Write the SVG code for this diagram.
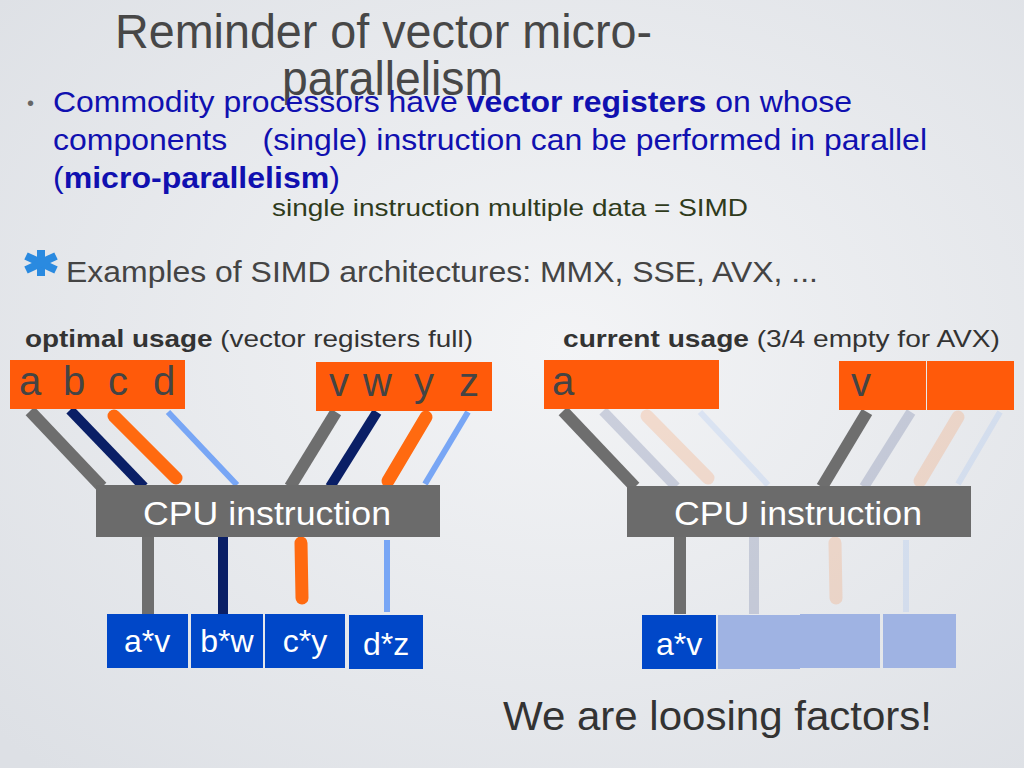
<svg xmlns="http://www.w3.org/2000/svg" width="1024" height="768" viewBox="0 0 1024 768">
<defs>
<radialGradient id="bg" cx="0.55" cy="0.45" r="0.75">
<stop offset="0" stop-color="#f3f4f6"/>
<stop offset="1" stop-color="#dde0e5"/>
</radialGradient>
<style>
text{font-family:"Liberation Sans",Arial,sans-serif}
.title{font-size:48px;fill:#474747}
.body{font-size:29px;fill:#1010b0}
.b{font-weight:bold}
.lab{font-size:24px;fill:#333}
.reg{fill:#ff5a0a}
.letter{font-size:40px;fill:#444}
.cpu{fill:#6b6b6b}
.cput{font-size:33px;fill:#fff;text-anchor:middle}
.res{fill:#0047c8}
.rest{font-size:32px;fill:#fff;text-anchor:middle}
.ghostbox{fill:#9fb3e3}
.gray{stroke:#6e6e6e;stroke-width:12;fill:none}
.navy{stroke:#0a1f66;stroke-width:10;fill:none}
.orange{stroke:#ff6a10;stroke-width:13;stroke-linecap:round;fill:none}
.lblue{stroke:#78a6f5;stroke-width:6;fill:none}
.ghost{opacity:0.16}
</style>
</defs>
<rect width="1024" height="768" fill="url(#bg)"/>

<g id="title">
<text class="title" x="115" y="48" textLength="537" lengthAdjust="spacingAndGlyphs">Reminder of vector micro-</text>
<text class="title" x="282" y="95" textLength="221" lengthAdjust="spacingAndGlyphs">parallelism</text>
</g>

<g id="bullet">
<text x="27" y="110" style="font-size:20px;fill:#666">•</text>
<text class="body" x="53" y="112" textLength="799" lengthAdjust="spacingAndGlyphs">Commodity processors have <tspan class="b">vector registers</tspan> on whose</text>
<text class="body" x="53" y="150" textLength="874" lengthAdjust="spacingAndGlyphs" xml:space="preserve">components    (single) instruction can be performed in parallel</text>
<text class="body" x="53" y="188" textLength="287" lengthAdjust="spacingAndGlyphs">(<tspan class="b">micro-parallelism</tspan>)</text>
<text x="272" y="216" textLength="476" lengthAdjust="spacingAndGlyphs" style="font-size:24px;fill:#2f3b1c">single instruction multiple data = SIMD</text>
</g>

<g id="examples">
<g stroke="#2a8ae0" stroke-width="8" stroke-linecap="butt">
<line x1="41" y1="250" x2="41" y2="276"/>
<line x1="26" y1="256" x2="56" y2="270"/>
<line x1="26" y1="270" x2="56" y2="256"/>
</g>
<text x="66" y="282" textLength="752" lengthAdjust="spacingAndGlyphs" style="font-size:29px;fill:#444">Examples of SIMD architectures: MMX, SSE, AVX, ...</text>
</g>

<g id="labels">
<text class="lab" x="25" y="347" textLength="448" lengthAdjust="spacingAndGlyphs"><tspan class="b">optimal usage</tspan> (vector registers full)</text>
<text class="lab" x="563" y="347" textLength="437" lengthAdjust="spacingAndGlyphs"><tspan class="b">current usage</tspan> (3/4 empty for AVX)</text>
</g>

<g id="connectors">
<line class="gray" x1="30" y1="411" x2="102" y2="487"/>
<line class="navy" x1="70" y1="410" x2="144" y2="487"/>
<line class="orange" x1="114" y1="416" x2="176" y2="478"/>
<line class="lblue" x1="168" y1="412" x2="237" y2="485"/>
<line class="gray" x1="336" y1="412" x2="290" y2="487"/>
<line class="navy" x1="377" y1="412" x2="330" y2="487"/>
<line class="orange" x1="426" y1="417" x2="388" y2="481"/>
<line class="lblue" x1="468" y1="412" x2="425" y2="484"/>
<line class="gray" x1="148" y1="537" x2="148" y2="614"/>
<line class="navy" x1="223" y1="537" x2="223" y2="614"/>
<line class="orange" x1="301" y1="543" x2="302" y2="598"/>
<line class="lblue" x1="387" y1="540" x2="387" y2="612"/>
<line class="gray" x1="563" y1="411" x2="635" y2="487"/>
<line class="gray" x1="867" y1="412" x2="822" y2="487"/>
<line class="gray" x1="680" y1="537" x2="680" y2="614"/>
<g class="ghost">
<line class="navy" x1="603" y1="411" x2="676" y2="487"/>
<line class="orange" x1="647" y1="416" x2="708" y2="478"/>
<line class="lblue" x1="700" y1="412" x2="768" y2="485"/>
<line class="navy" x1="911" y1="412" x2="864" y2="487"/>
<line class="orange" x1="958" y1="417" x2="920" y2="481"/>
<line class="lblue" x1="1000" y1="412" x2="958" y2="484"/>
<line class="navy" x1="754" y1="537" x2="754" y2="614"/>
<line class="orange" x1="835" y1="543" x2="836" y2="598"/>
<line class="lblue" x1="906" y1="540" x2="906" y2="612"/>
</g>
</g>

<g id="reg-abcd">
<rect class="reg" x="10" y="360" width="175" height="49"/>
<text class="letter" x="19" y="395">a</text>
<text class="letter" x="63" y="395">b</text>
<text class="letter" x="108" y="395">c</text>
<text class="letter" x="153" y="395">d</text>
</g>
<g id="reg-vwyz">
<rect class="reg" x="316" y="362" width="176" height="49"/>
<text class="letter" x="329" y="396">v</text>
<text class="letter" x="363" y="396">w</text>
<text class="letter" x="414" y="396">y</text>
<text class="letter" x="459" y="396">z</text>
</g>
<g id="reg-a">
<rect class="reg" x="544" y="360" width="175" height="49"/>
<text class="letter" x="552" y="395">a</text>
</g>
<g id="reg-v">
<rect class="reg" x="839" y="361" width="87" height="49"/>
<rect class="reg" x="927" y="361" width="87" height="49"/>
<text class="letter" x="851" y="396">v</text>
</g>

<g id="cpu-left">
<rect class="cpu" x="96" y="485" width="344" height="52"/>
<text class="cput" x="267" y="525" textLength="248" lengthAdjust="spacingAndGlyphs">CPU instruction</text>
</g>
<g id="cpu-right">
<rect class="cpu" x="627" y="486" width="344" height="51"/>
<text class="cput" x="798" y="525" textLength="248" lengthAdjust="spacingAndGlyphs">CPU instruction</text>
</g>

<g id="res-left">
<rect class="res" x="107" y="614" width="81" height="54"/>
<text class="rest" x="147" y="652">a*v</text>
<rect class="res" x="191" y="614" width="72" height="54"/>
<text class="rest" x="227" y="652">b*w</text>
<rect class="res" x="265" y="614" width="80" height="54"/>
<text class="rest" x="305" y="652">c*y</text>
<rect class="res" x="349" y="615" width="74" height="54"/>
<text class="rest" x="386" y="655">d*z</text>
</g>
<g id="res-right">
<rect class="res" x="642" y="615" width="74" height="54"/>
<text class="rest" x="679" y="655">a*v</text>
<rect class="ghostbox" x="718" y="615" width="82" height="54"/>
<rect class="ghostbox" x="800" y="614" width="80" height="54"/>
<rect class="ghostbox" x="883" y="614" width="73" height="54"/>
</g>

<g id="note">
<text x="503" y="730" textLength="429" lengthAdjust="spacingAndGlyphs" style="font-size:41px;fill:#333">We are loosing factors!</text>
</g>
</svg>
